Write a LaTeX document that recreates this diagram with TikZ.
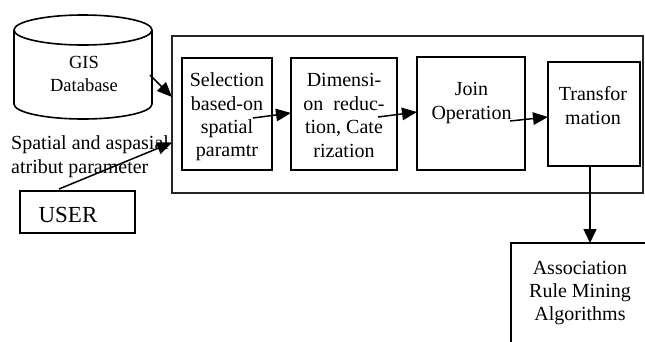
\documentclass[tikz,border=0pt]{standalone}
\usepackage{fontspec}
\setmainfont{Liberation Serif}
\usetikzlibrary{arrows.meta,calc}

\begin{document}
\begin{tikzpicture}[x=1pt,y=-1pt,
  box/.style={draw,line width=1.6pt,inner sep=0pt,outer sep=0pt},
  lbl/.style={inner sep=0pt,align=center,font=\fontsize{20}{23.4}\selectfont},
  arr/.style={line width=1.5pt,-{Triangle[length=15pt,width=12.5pt]}}]
\useasboundingbox (0,0) rectangle (645,341);
\clip (0,0) rectangle (645,341);

% GIS database cylinder
\draw[line width=1.6pt] (14,30) -- (14,104) arc[start angle=180,end angle=360,x radius=69pt,y radius=15pt] -- (152,30);
\draw[line width=1.6pt] (83,30) ellipse[x radius=69pt,y radius=15pt];
\node[inner sep=0pt,outer sep=0pt,minimum width=138pt,minimum height=104pt] (gisdb) at (83,67) {};
\node[lbl,font=\fontsize{18.5}{23}\selectfont] (gistxt) at (84,74) {GIS\\Database};

% processing frame and its stages
\node[box,draw=black!85,line width=1.3pt,minimum width=471pt,minimum height=157pt] (frame) at (407.5,114.5) {};
\node[box,minimum width=90pt,minimum height=112pt] (sel) at (227,114) {};
\node[box,minimum width=106pt,minimum height=112pt] (dim) at (344,114) {};
\node[box,minimum width=108pt,minimum height=113pt] (join) at (471,113.5) {};
\node[box,minimum width=92pt,minimum height=104pt] (trans) at (594,114) {};
\node[box,minimum width=115pt,minimum height=42pt] (user) at (77.5,212) {};
\node[box,minimum width=170pt,minimum height=140pt,anchor=north west] (assoc) at (511,243) {};

\node[lbl] (seltxt) at (227,117) {Selection\\based-on\\spatial\\paramtr};
\node[lbl] (dimtxt) at (344,115.5) {Dimensi-\\on~~reduc-\\tion, Cate\\rization};
\node[lbl] (jointxt) at (471.5,103) {Join\\Operation};
\node[lbl] (transtxt) at (593,105.5) {Transfor\\mation};
\node[lbl,font=\fontsize{23}{27}\selectfont] (usertxt) at (68,214.7) {USER};
\node[lbl,align=left,anchor=west] (spatxt) at (11,156.7) {Spatial and aspasial\\atribut parameter};
\node[lbl] (assoctxt) at (580,293) {Association\\Rule Mining\\Algorithms};

% connectors
\draw[arr] ([shift={(-2,8)}]gisdb.east) -- ([shift={(0,-17.5)}]frame.west);
\draw[arr] ([shift={(-18.5,-2)}]user.north) -- ([shift={(0,28)}]frame.west);
\draw[arr] ([shift={(-19,4)}]sel.east) -- ([shift={(0,-1)}]dim.west);
\draw[arr] ([shift={(-19,3)}]dim.east) -- ([shift={(0,-1.5)}]join.west);
\draw[arr] ([shift={(-15,7.5)}]join.east) -- ([shift={(0,3)}]trans.west);
\draw[arr,-{Triangle[length=14pt,width=13pt]}] ([xshift=-4pt]trans.south) -- ([xshift=-4pt]trans.south |- assoc.north);
\end{tikzpicture}
\end{document}
